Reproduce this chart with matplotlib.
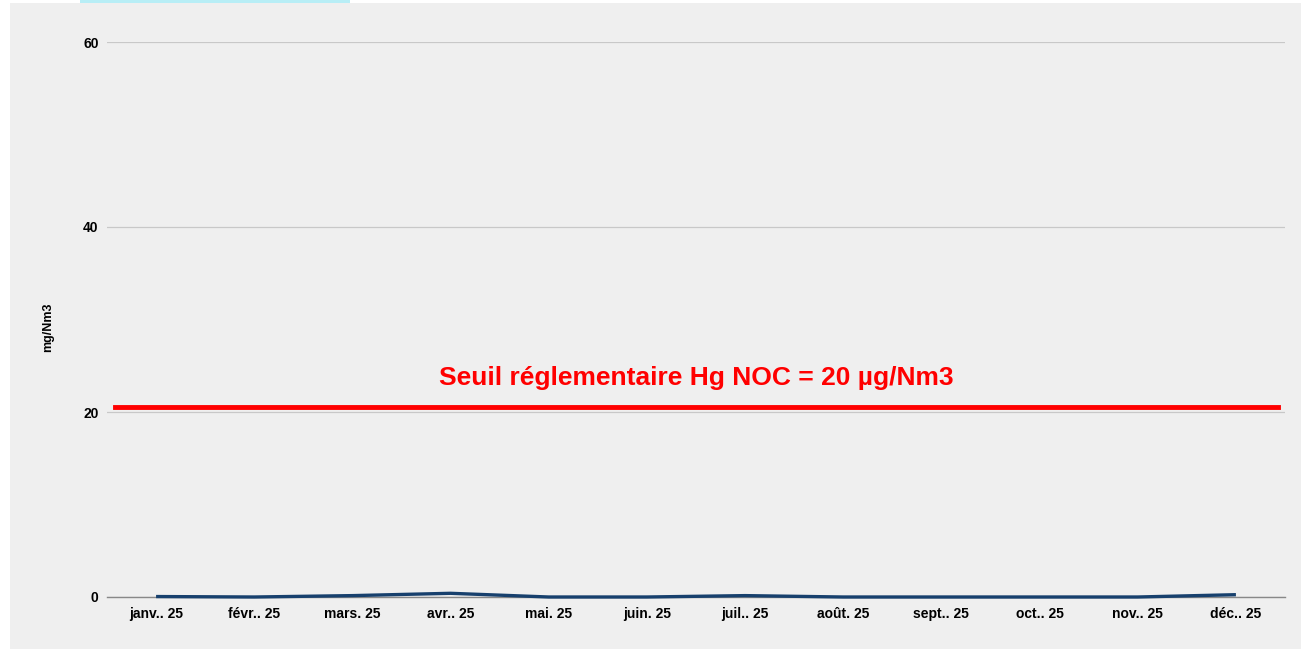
#!/usr/bin/env python3
"""Hg NOC monthly chart with regulatory threshold."""

import matplotlib
matplotlib.use('Agg')
import matplotlib.pyplot as plt
from matplotlib.patches import Rectangle

plt.rcParams['font.family'] = ['Liberation Sans', 'DejaVu Sans']

# Data
months = ['janv.. 25', 'févr.. 25', 'mars. 25', 'avr.. 25', 'mai. 25', 'juin. 25',
          'juil.. 25', 'août. 25', 'sept.. 25', 'oct.. 25', 'nov.. 25', 'déc.. 25']
hg_values = [0.05, 0.0, 0.15, 0.4, 0.0, 0.0, 0.15, 0.0, 0.0, 0.0, 0.0, 0.25]
threshold = 20.5
threshold_label = 'Seuil réglementaire Hg NOC = 20 µg/Nm3'
y_ticks = [0, 20, 40, 60]

BG = '#efefef'
LINE = '#17406d'

fig = plt.figure(figsize=(13.01, 6.49), dpi=100, facecolor='white')
# gray panel and the cut-off cyan strip at the top (behind the axes)
fig.patches.append(Rectangle((10 / 1301, 0), 1 - 10 / 1301, 1 - 3 / 649,
                             transform=fig.transFigure, facecolor=BG,
                             edgecolor='none', zorder=-2))
fig.patches.append(Rectangle((80 / 1301, 1 - 3 / 649), 270 / 1301, 3 / 649,
                             transform=fig.transFigure, facecolor='#b8eef6',
                             edgecolor='none', zorder=-2))

ax = fig.add_axes([107 / 1301, 1 - 597 / 649, 1178 / 1301, 555 / 649])
ax.set_facecolor(BG)

x = list(range(len(months)))
ax.plot(x, hg_values, color=LINE, linewidth=2.4, zorder=3, solid_capstyle='butt',
        clip_on=False)

ax.axhline(threshold, xmin=8 / 1178, xmax=1171 / 1178, color='#ff0000',
           linewidth=3.5, zorder=4)
ax.text(5.5, 23.7, threshold_label, color='#ff0000', fontsize=19,
        fontweight='bold', ha='center', va='center', zorder=5)

ax.set_xlim(-0.5, len(months) - 0.5)
ax.set_ylim(0, 60)
ax.set_xticks(x)
ax.set_xticklabels(months, fontsize=10, fontweight='bold')
ax.set_yticks(y_ticks)
ax.set_yticklabels([str(v) for v in y_ticks], fontsize=10, fontweight='bold')
ax.tick_params(axis='x', length=0, pad=7)
ax.tick_params(axis='y', length=0, pad=6)

ax.grid(True, axis='y', color='#c8c8c8', linewidth=0.9, zorder=1)
for side in ['top', 'right', 'left']:
    ax.spines[side].set_visible(False)
ax.spines['bottom'].set_color('#888888')
ax.spines['bottom'].set_linewidth(1.0)
ax.spines['bottom'].set_zorder(2)

fig.text(48 / 1301, 1 - 327 / 649, 'mg/Nm3', rotation=90, fontsize=9,
         fontweight='bold', ha='center', va='center')

fig.savefig('out.png', dpi=100, facecolor=fig.get_facecolor())
